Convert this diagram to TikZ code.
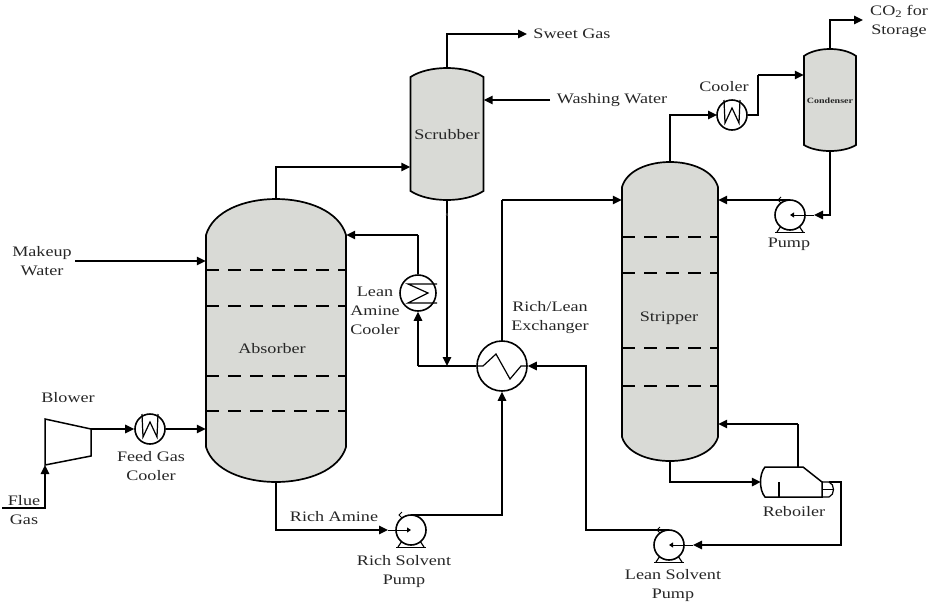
\documentclass[tikz,border=0pt]{standalone}
\usepackage{fontspec}
\setmainfont[FakeStretch=1.25]{Liberation Serif}
\usetikzlibrary{arrows.meta,calc}
\definecolor{vesselgrey}{HTML}{D9DAD6}
\tikzset{
  line/.style={line width=1.5pt,black,line join=miter},
  flow/.style={line,-{Triangle[length=9pt,width=8.5pt]}},
  tinyflow/.style={line width=1pt,-{Triangle[length=4pt,width=5pt]}},
  trayline/.style={line width=1.3pt,dash pattern=on 12.5pt off 9.5pt},
  lbl/.style={font=\fontsize{14.5}{19}\selectfont,align=center,inner sep=0pt,text=black!85},
  ring/.style={circle,draw,line width=1.6pt,fill=white,inner sep=0pt,minimum size=#1},
  anchorbox/.style={rectangle,inner sep=0pt,draw=none},
}
% name, x1, x2, top apex, top side, bottom side, bottom apex, inset factor
\newcommand{\vesselshape}[8]{%
  \pgfmathsetmacro{\vw}{#3-#2}\pgfmathsetmacro{\vi}{#8*\vw}
  \pgfmathsetmacro{\vta}{#5-4/3*(#5-#4)}\pgfmathsetmacro{\vba}{#6+4/3*(#7-#6)}
  \draw[line,line width=1.7pt,fill=vesselgrey] (#2,#5) .. controls (#2+\vi,\vta) and (#3-\vi,\vta) .. (#3,#5)
    -- (#3,#6) .. controls (#3-\vi,\vba) and (#2+\vi,\vba) .. (#2,#6) -- cycle;
  \node[anchorbox,minimum width=#3 pt-#2 pt,minimum height=#7 pt-#4 pt] (#1) at ({(#2+#3)/2},{(#4+#7)/2}) {};
}
\newcommand{\wcooler}[3]{%
  \node[ring=30pt] (#1) at (#2,#3) {};
  \draw[line,line width=1.2pt] (#2-8,#3-15) -- (#2-7,#3+8) -- (#2,#3-7) -- (#2+7,#3+8) -- (#2+8,#3-15);
}
\newcommand{\pumpunit}[3]{%
  \draw[line,line width=1.2pt] (#2-9,#3+11) -- (#2-13,#3+17) (#2+9,#3+11) -- (#2+13,#3+17);
  \draw[line] (#2-15,#3+17.5) -- (#2+15,#3+17.5);
  \node[ring=30pt] (#1) at (#2,#3) {};
  \coordinate (#1top) at (#2,#3-15);
  \draw[line,line width=1pt] (#2-9,#3-18) -- (#2-12,#3-15) -- (#2-9,#3-12);
}
\begin{document}
\begin{tikzpicture}[x=1pt,y=-1pt]
\useasboundingbox (0,0) rectangle (929,603);

% vessels
\vesselshape{absorber}{206}{346}{199}{235}{447}{482}{0.1}
\vesselshape{scrubber}{410.5}{483.5}{68}{77}{191}{200}{0.25}
\vesselshape{stripper}{622}{718}{162}{187}{437}{461}{0.1}
\vesselshape{condenser}{804}{856}{49}{56}{145}{151}{0.25}

% trays
\foreach \ty in {270,306,376,411} \draw[trayline] (206,\ty) -- (346,\ty);
\foreach \ty in {237,273,348,386} \draw[trayline] (622,\ty) -- (718,\ty);

% free ends
\coordinate (flueend) at (2,508);
\coordinate (makeupend) at (75,261);
\coordinate (washend) at (550,100);
\coordinate (sweetend) at (527,34);
\coordinate (co2end) at (863,20);
\coordinate (richin) at (388,530);
\coordinate (leanin) at (693,545);
\coordinate (refluxin) at (814,215);

% flows behind equipment
\draw[flow] (flueend) -| (45,465);
\draw[flow] (makeupend) -- (absorber.west |- makeupend);
\draw[flow] (absorber.north) |- (scrubber.west |- 0,167);
\draw[flow] (scrubber.north) |- (sweetend);
\draw[flow] (washend) -- (scrubber.east |- washend);
\draw[flow] (condenser.north) |- (co2end);
\draw[flow] (stripper.north) |- (717,115);
\draw[line] (502,341) -- (502,200);
\draw[flow] (502,200) -- (stripper.west |- 0,200);

% equipment
\node[anchorbox,minimum size=1pt] (blowerout) at (91,429) {};
\draw[line,line width=1.5pt,fill=white] (45,419) -- (91,429) -- (91,456) -- (45,465) -- cycle;
\wcooler{feedcooler}{150}{429}
\draw[flow] (blowerout.center) -- (feedcooler.west);
\draw[flow] (feedcooler.east) -- (absorber.west |- feedcooler);

\wcooler{cooler}{732}{115}
\draw[line] (cooler.east) -- (758,115) |- (758,75);
\draw[flow] (758,75) -- (condenser.west |- 0,75);

% lean amine cooler
\node[ring=36pt] (leancooler) at (418,293) {};
\draw[line,line width=1.2pt] (437,284) -- (408,284) -- (428,293) -- (408,303) -- (437,303);
\draw[line] (leancooler.north) -- (418,235);
\draw[flow] (418,235) -- (absorber.east |- 0,235);

% exchanger
\node[ring=50pt] (exchanger) at (502,366) {};
\draw[line,line width=1.2pt] (477,366) -- (483,366) -- (496,354) -- (510,379) -- (521,366) -- (527,366);
\draw[line] (exchanger.west) -- (418,366);
\draw[flow] (418,366) -- (leancooler.south);
\draw[flow] (scrubber.south) -- (scrubber.south |- exchanger);

% pumps
\pumpunit{richpump}{411}{530}
\pumpunit{leanpump}{669}{545}
\pumpunit{refluxpump}{790}{215}

\draw[flow] (absorber.south) |- (richin);
\draw[tinyflow] (richin) -- (richpump.center);
\draw[flow] (richpumptop) -| (exchanger.south);

\draw[flow] (leanpumptop) -| (586,366) -- (exchanger.east);

\draw[flow] (condenser.south) |- (refluxin);
\draw[tinyflow] (refluxin) -- (refluxpump.center);
\draw[flow] (refluxpumptop) -- (stripper.east |- refluxpumptop);

% reboiler
\node[anchorbox,minimum width=73pt,minimum height=30pt] (reboiler) at (797.5,482) {};
\draw[line,fill=white] (765,467) -- (803,467) -- (822,482) -- (822,497) -- (765,497)
  .. controls (759,490) and (759,474) .. cycle;
\draw[line,line width=1.2pt] (779,482) -- (779,497);
\draw[line,line width=1.2pt] (822,482) -- (829,482) .. controls (835,484) and (835,495) .. (829,497) -- (822,497);
\draw[line,line width=1.2pt] (822,489.5) -- (833,489.5);
\draw[flow] (stripper.south) |- (reboiler.west);
\draw[line] (798,467) -- (798,424);
\draw[flow] (798,424) -- (stripper.east |- 0,424);
\draw[flow] (829,482) -- (841,482) |- (leanin);
\draw[tinyflow] (leanin) -- (leanpump.center);

% labels
\node[lbl] (tSweet) at (572,34) {Sweet Gas};
\node[lbl] (tWash) at (612,100) {Washing Water};
\node[lbl] (tCO2) at (899,21) {CO\textsubscript{2} for\\Storage};
\node[lbl] (tCooler) at (724,87) {Cooler};
\node[lbl] (tScrub) at (447,135) {Scrubber};
\node[lbl,font=\fontsize{8}{9}\selectfont\bfseries] (tCond) at (830,101) {Condenser};
\node[lbl] (tPump) at (789,244) {Pump};
\node[lbl] (tStrip) at (669,318) {Stripper};
\node[lbl] (tExch) at (550,318) {Rich/Lean\\Exchanger};
\node[lbl] (tLean) at (375,311) {Lean\\Amine\\Cooler};
\node[lbl] (tMakeup) at (42,261) {Makeup\\Water};
\node[lbl] (tAbs) at (272,349) {Absorber};
\node[lbl] (tBlower) at (68,398) {Blower};
\node[lbl] (tFeed) at (151,466) {Feed Gas\\Cooler};
\node[lbl] (tFlue) at (24,510) {Flue\\Gas};
\node[lbl] (tRichA) at (334,517) {Rich Amine};
\node[lbl] (tRichP) at (404,572) {Rich Solvent\\Pump};
\node[lbl] (tLeanP) at (673,586) {Lean Solvent\\Pump};
\node[lbl] (tReb) at (794,512) {Reboiler};
\node[lbl,font=\fontsize{6}{7}\selectfont,text=black!60] (tS) at (447,215) {s};
\end{tikzpicture}
\end{document}
